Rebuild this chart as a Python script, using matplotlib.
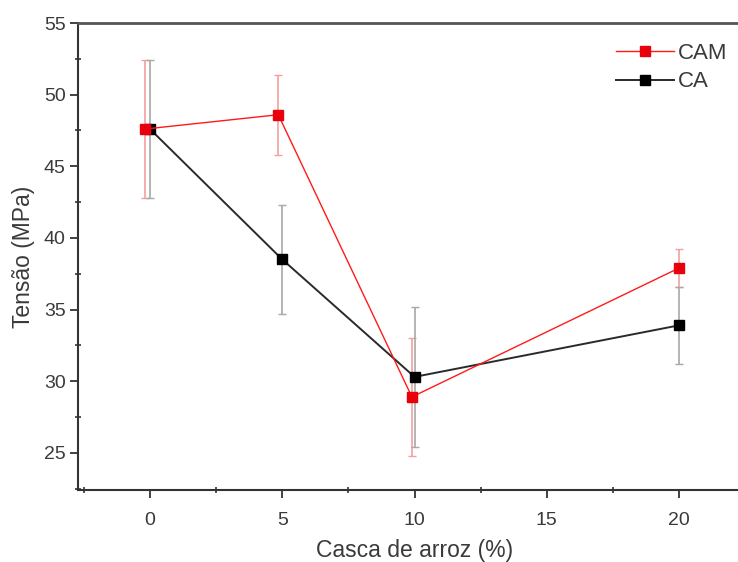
import numpy as np
import matplotlib.pyplot as plt
from matplotlib.ticker import MultipleLocator

plt.rcParams['font.family'] = ['Liberation Sans', 'DejaVu Sans']

# rice husk content (%) and tensile strength (MPa)
cam_x = [-0.2, 4.85, 9.9, 20.0]
cam_y = [47.6, 48.6, 28.9, 37.9]
cam_err = [4.8, 2.8, 4.1, 1.3]

ca_x = [0.0, 5.0, 10.0, 20.0]
ca_y = [47.6, 38.5, 30.3, 33.9]
ca_err = [4.8, 3.8, 4.9, 2.7]

txt = '#3a3a3a'

fig = plt.figure(figsize=(7.38, 5.62), dpi=100)
ax = fig.add_axes([0.1057, 0.128, 0.912, 0.831])

# error bars first so the lines sit on top
ax.errorbar(cam_x, cam_y, yerr=cam_err, fmt='none', ecolor='#f2a0a0',
            elinewidth=1.2, capsize=3, capthick=1.0, zorder=1)
ax.errorbar(ca_x, ca_y, yerr=ca_err, fmt='none', ecolor='#a8a8a8',
            elinewidth=1.2, capsize=3, capthick=1.0, zorder=1)

ax.plot(cam_x, cam_y, color='#ff1a1a', lw=1.0, marker='s', ms=6.5,
        mfc='#e8000b', mec='#e8000b', label='CAM', zorder=3)
ax.plot(ca_x, ca_y, color='#2a2a2a', lw=1.4, marker='s', ms=6.5,
        mfc='black', mec='black', label='CA', zorder=2)

ax.set_xlim(-2.72, 22.72)
ax.set_ylim(22.4, 55)
ax.xaxis.set_major_locator(MultipleLocator(5))
ax.xaxis.set_minor_locator(MultipleLocator(2.5))
ax.yaxis.set_major_locator(MultipleLocator(5))
ax.yaxis.set_minor_locator(MultipleLocator(2.5))

ax.tick_params(which='major', direction='out', length=6, width=1.3,
               colors='#333333', labelsize=14, labelcolor=txt)
ax.tick_params(axis='x', which='major', pad=10)
ax.tick_params(axis='y', which='major', pad=3)
ax.tick_params(which='minor', direction='inout', length=4, width=1.2,
               colors='#333333')
ax.tick_params(top=False, right=False, which='both')

for side in ['left', 'bottom', 'top']:
    ax.spines[side].set_color('#333333')
    ax.spines[side].set_linewidth(1.5)
ax.spines['top'].set_color('#555555')
ax.spines['top'].set_linewidth(2)
ax.spines['right'].set_visible(False)

ax.set_xlabel('Casca de arroz (%)', fontsize=16.5, color=txt, labelpad=7)
ax.set_ylabel('Tensão (MPa)', fontsize=16.5, color=txt, labelpad=6)

leg = ax.legend(loc='upper right', bbox_to_anchor=(0.965, 0.958), frameon=False,
                fontsize=16, handlelength=2.6, handletextpad=0.2,
                labelspacing=0.35, borderaxespad=0, borderpad=0)
for t in leg.get_texts():
    t.set_color(txt)

fig.savefig('out.png', dpi=100)
